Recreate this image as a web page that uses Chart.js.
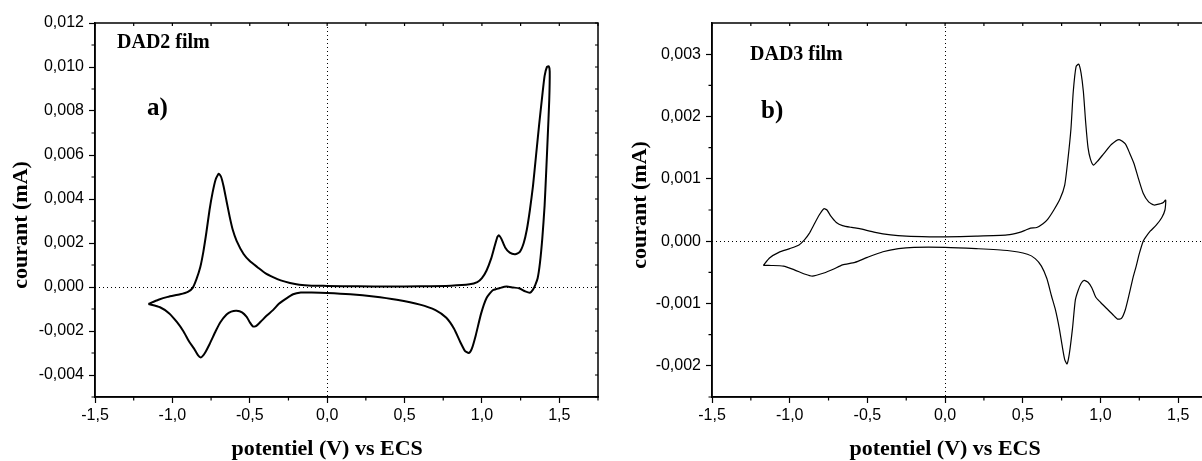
<!DOCTYPE html>
<html>
<head>
<meta charset="utf-8">
<script src="https://cdn.jsdelivr.net/npm/chart.js@4"></script>
<style>
  html, body { margin: 0; padding: 0; overflow: hidden; background: #fff; }
  #wrap { position: relative; width: 1202px; height: 461px; overflow: hidden; }
  #dad2 { position: absolute; left: 0; top: 0; }
  #dad3 { position: absolute; left: 600px; top: 0; }
</style>
</head>
<body>
<div id="wrap">
  <canvas id="dad2" width="600" height="461"></canvas>
  <canvas id="dad3" width="620" height="461"></canvas>
</div>
<script>
// Cyclic voltammograms: potential (V vs ECS) / current (mA)
const dad2Potential = [
  -1.155, -1.09, -1.03, -0.95, -0.90, -0.87, -0.845, -0.82, -0.80, -0.78, -0.76, -0.74, -0.72, -0.70,
  -0.685, -0.67, -0.65, -0.63, -0.61, -0.585, -0.54, -0.50, -0.45, -0.40, -0.35, -0.30, -0.24, -0.18,
  -0.10, 0.0, 0.2, 0.4, 0.6, 0.8, 0.92, 0.97, 1.00, 1.03, 1.06, 1.08, 1.10, 1.11, 1.125, 1.15, 1.18,
  1.215, 1.245, 1.27, 1.29, 1.31, 1.33, 1.35, 1.37, 1.39, 1.405, 1.42, 1.432, 1.438,
  1.435, 1.425, 1.415, 1.405, 1.39, 1.375, 1.36, 1.345, 1.33, 1.31, 1.28, 1.24, 1.20, 1.16, 1.12,
  1.07, 1.03, 0.995, 0.96, 0.935, 0.915, 0.89, 0.86, 0.82, 0.77, 0.70, 0.60, 0.45, 0.30, 0.15, 0.0,
  -0.10, -0.17, -0.22, -0.27, -0.31, -0.35, -0.39, -0.43, -0.46, -0.48, -0.50, -0.52, -0.55, -0.585,
  -0.62, -0.65, -0.69, -0.72, -0.76, -0.79, -0.815, -0.835, -0.86, -0.89, -0.93, -0.97, -1.02, -1.08, -1.155
];
const dad2Current = [
  -0.00077, -0.00058, -0.00045, -0.00033, -0.00022, -0.00005, 0.00035, 0.0009, 0.0016, 0.0025, 0.0035, 0.0043, 0.0049, 0.00515,
  0.0050, 0.0046, 0.0039, 0.0032, 0.0026, 0.0021, 0.0015, 0.00118, 0.0009, 0.00063, 0.00045, 0.0003, 0.00018, 0.0001,
  0.00006, 0.00005, 0.00003, 0.00002, 0.00003, 0.00006, 0.00012, 0.00022, 0.0004, 0.00075, 0.0013, 0.0018, 0.00228, 0.00235, 0.0022, 0.0018, 0.00156,
  0.00149, 0.0016, 0.0020, 0.0026, 0.0035, 0.0046, 0.0060, 0.0074, 0.0087, 0.0096, 0.0100, 0.01003, 0.0098,
  0.0085, 0.0068, 0.0052, 0.0037, 0.0022, 0.0011, 0.0004, 0.0001, -0.00012, -0.00026, -0.0002, -0.00006, -0.00002, 0.00002, -0.00004,
  -0.00015, -0.0005, -0.0012, -0.0022, -0.0028, -0.003, -0.0029, -0.0025, -0.0019, -0.0014, -0.00105, -0.0008, -0.00058, -0.00043, -0.00033, -0.00027,
  -0.00025, -0.00025, -0.00033, -0.00055, -0.00075, -0.00105, -0.0013, -0.00158, -0.00178, -0.00179, -0.0016, -0.00136, -0.00115, -0.00108,
  -0.00112, -0.00125, -0.0016, -0.002, -0.0026, -0.0030, -0.0032, -0.0031, -0.0028, -0.0025, -0.002, -0.0016, -0.0012, -0.00092, -0.00077
];

const dad3Potential = [
  -1.17, -1.13, -1.07, -1.00, -0.94, -0.905, -0.875, -0.845, -0.81, -0.78, -0.76, -0.735, -0.70, -0.66, -0.60, -0.55,
  -0.45, -0.35, -0.25, -0.10, 0.0, 0.20, 0.40, 0.48, 0.52, 0.55, 0.59, 0.63, 0.66, 0.70, 0.74, 0.77, 0.79, 0.81, 0.825,
  0.843, 0.86, 0.875, 0.89, 0.905, 0.92, 0.935, 0.955, 0.98, 1.02, 1.07, 1.12, 1.16, 1.19, 1.215, 1.245, 1.275, 1.31,
  1.345, 1.385, 1.405, 1.42,
  1.415, 1.395, 1.36, 1.32, 1.29, 1.275, 1.25, 1.23, 1.21, 1.185, 1.16, 1.135, 1.11, 1.08, 1.04, 1.00, 0.97, 0.945,
  0.92, 0.895, 0.875, 0.855, 0.838, 0.82, 0.80, 0.785, 0.77, 0.755, 0.735, 0.71, 0.685, 0.655, 0.62, 0.58, 0.53,
  0.40, 0.20, 0.0, -0.20, -0.30, -0.40, -0.50, -0.58, -0.66, -0.72, -0.78, -0.855, -0.90, -0.97, -1.04, -1.12, -1.17
];
const dad3Current = [
  -0.00039, -0.00027, -0.00018, -0.00012, -0.00006, 0.00002, 0.00012, 0.00026, 0.00042, 0.00052, 0.0005, 0.0004, 0.0003, 0.00025, 0.00022, 0.0002,
  0.00014, 0.0001, 0.00008, 0.00007, 0.00007, 0.00008, 0.0001, 0.00014, 0.00018, 0.00021, 0.00022, 0.00028, 0.00035, 0.0005, 0.00068, 0.0009, 0.0013, 0.0018, 0.0024,
  0.0028, 0.00284, 0.0027, 0.0024, 0.0019, 0.0015, 0.00132, 0.00122, 0.00128, 0.0014, 0.00155, 0.00163, 0.00156, 0.0014, 0.00125, 0.001, 0.00077, 0.00063,
  0.00058, 0.0006, 0.00062, 0.00066,
  0.0005, 0.00038, 0.00026, 0.00016, 0.00006, 0.0, -0.0002, -0.0004, -0.00058, -0.00085, -0.0011, -0.00124, -0.00125, -0.00118, -0.00108, -0.00098, -0.0009, -0.00075,
  -0.00066, -0.00063, -0.00068, -0.0008, -0.00095, -0.0014, -0.0018, -0.00197, -0.0019, -0.0017, -0.0014, -0.0011, -0.00088, -0.0006, -0.0004, -0.00028, -0.00021,
  -0.00015, -0.00012, -0.0001, -0.0001, -0.00012, -0.00017, -0.00026, -0.00034, -0.00038, -0.00045, -0.00051, -0.00056, -0.00053, -0.00046, -0.0004, -0.00039, -0.00039
];

// Tick positions
const xTicks = [-1.5, -1.0, -0.5, 0.0, 0.5, 1.0, 1.5];
const xMinor = [-1.25, -0.75, -0.25, 0.25, 0.75, 1.25, 1.75];
const dad2YTicks = [-0.004, -0.002, 0, 0.002, 0.004, 0.006, 0.008, 0.010, 0.012];
const dad2YMinor = [-0.005, -0.003, -0.001, 0.001, 0.003, 0.005, 0.007, 0.009, 0.011];
const dad3YTicks = [-0.002, -0.001, 0, 0.001, 0.002, 0.003];
const dad3YMinor = [-0.0025, -0.0015, -0.0005, 0.0005, 0.0015, 0.0025];

const xTitle = 'potentiel (V) vs ECS';
const yTitle = 'courant (mA)';
const serif = '"Liberation Serif", "Times New Roman", serif';
const sans = '"Liberation Sans", Arial, sans-serif';

// Origin-style frame: dotted zero lines, box, minor ticks, titles, labels
const frame = {
  id: 'frame',
  beforeDatasetsDraw(chart) {
    const { ctx, chartArea: a, scales: { x, y } } = chart;
    ctx.save();
    ctx.strokeStyle = '#000';
    ctx.lineWidth = 1;
    ctx.setLineDash([1, 3]);
    const px = Math.round(x.getPixelForValue(0)) + 0.5;
    const py = Math.round(y.getPixelForValue(0)) + 0.5;
    ctx.beginPath();
    ctx.moveTo(px, a.top); ctx.lineTo(px, a.bottom);
    ctx.moveTo(a.left, py); ctx.lineTo(a.right, py);
    ctx.stroke();
    ctx.restore();
  },
  afterDraw(chart, args, o) {
    const { ctx, chartArea: a, scales: { x, y } } = chart;
    ctx.save();
    ctx.strokeStyle = '#000';
    ctx.lineWidth = 1.5;
    ctx.strokeRect(a.left, a.top, a.right - a.left, a.bottom - a.top);

    ctx.lineWidth = 1.2;
    ctx.beginPath();
    xMinor.forEach(v => {
      const p = x.getPixelForValue(v);
      ctx.moveTo(p, a.bottom); ctx.lineTo(p, a.bottom + 3.5);
    });
    o.yMinor.forEach(v => {
      const p = y.getPixelForValue(v);
      ctx.moveTo(a.left, p); ctx.lineTo(a.left - 3.5, p);
    });
    [...xTicks, ...xMinor].forEach(v => {
      const p = x.getPixelForValue(v);
      ctx.moveTo(p, a.top); ctx.lineTo(p, a.top + 3);
    });
    [...o.yTicks, ...o.yMinor].forEach(v => {
      const p = y.getPixelForValue(v);
      ctx.moveTo(a.right, p); ctx.lineTo(a.right - 3, p);
    });
    ctx.stroke();

    ctx.fillStyle = '#000';
    ctx.textAlign = 'left';
    ctx.textBaseline = 'alphabetic';
    ctx.font = 'bold 20px ' + serif;
    ctx.fillText(o.film, a.left + o.filmAt[0], o.filmAt[1]);
    ctx.font = 'bold 25px ' + serif;
    ctx.fillText(o.letter, a.left + o.letterAt[0], o.letterAt[1]);

    ctx.font = 'bold 22px ' + serif;
    ctx.textAlign = 'center';
    ctx.fillText(xTitle, x.getPixelForValue(0), 455);

    ctx.translate(o.yTitleAt[0], o.yTitleAt[1]);
    ctx.rotate(-Math.PI / 2);
    ctx.textBaseline = 'middle';
    ctx.fillText(yTitle, 0, 0);
    ctx.restore();
  }
};

function makeChart(id, cfg) {
  const points = cfg.potential.map((v, i) => ({ x: v, y: cfg.current[i] }));
  return new Chart(document.getElementById(id), {
    type: 'scatter',
    data: {
      datasets: [{
        data: points,
        showLine: true,
        borderColor: '#000',
        borderWidth: cfg.lineWidth,
        pointRadius: 0,
        tension: 0.2,
        fill: false
      }]
    },
    plugins: [frame],
    options: {
      responsive: false,
      animation: false,
      layout: { padding: { top: 23, right: cfg.padRight, bottom: 0, left: 0 } },
      plugins: {
        legend: { display: false },
        tooltip: { enabled: false },
        frame: cfg.frame
      },
      scales: {
        x: {
          type: 'linear',
          min: -1.5,
          max: 1.75,
          afterBuildTicks: s => { s.ticks = xTicks.map(v => ({ value: v })); },
          afterFit: s => { s.height = 64; },
          grid: { drawOnChartArea: false, tickLength: 6, tickColor: '#000', tickWidth: 1.2 },
          border: { color: '#000', width: 1.5 },
          ticks: {
            color: '#000', font: { family: sans, size: 16 }, padding: 3,
            autoSkip: false, maxRotation: 0,
            callback: v => v.toFixed(1).replace('.', ',')
          }
        },
        y: {
          type: 'linear',
          min: cfg.yMin,
          max: cfg.yMax,
          afterBuildTicks: s => { s.ticks = cfg.frame.yTicks.map(v => ({ value: v })); },
          afterFit: s => { s.width = cfg.yWidth; },
          grid: { drawOnChartArea: false, tickLength: 6, tickColor: '#000', tickWidth: 1.2 },
          border: { color: '#000', width: 1.5 },
          ticks: {
            color: '#000', font: { family: sans, size: 16 }, padding: 5,
            autoSkip: false,
            callback: v => v.toFixed(3).replace('.', ',')
          }
        }
      }
    }
  });
}

makeChart('dad2', {
  potential: dad2Potential,
  current: dad2Current,
  lineWidth: 2,
  yMin: -0.005,
  yMax: 0.012,
  yWidth: 95,
  padRight: 2,
  frame: {
    yTicks: dad2YTicks, yMinor: dad2YMinor,
    film: 'DAD2 film', filmAt: [22, 48],
    letter: 'a)', letterAt: [52, 115],
    yTitleAt: [21, 225]
  }
});

makeChart('dad3', {
  potential: dad3Potential,
  current: dad3Current,
  lineWidth: 1.2,
  yMin: -0.0025,
  yMax: 0.0035,
  yWidth: 112,
  padRight: 3,
  frame: {
    yTicks: dad3YTicks, yMinor: dad3YMinor,
    film: 'DAD3 film', filmAt: [38, 60],
    letter: 'b)', letterAt: [49, 118],
    yTitleAt: [40, 205]
  }
});
</script>
</body>
</html>
